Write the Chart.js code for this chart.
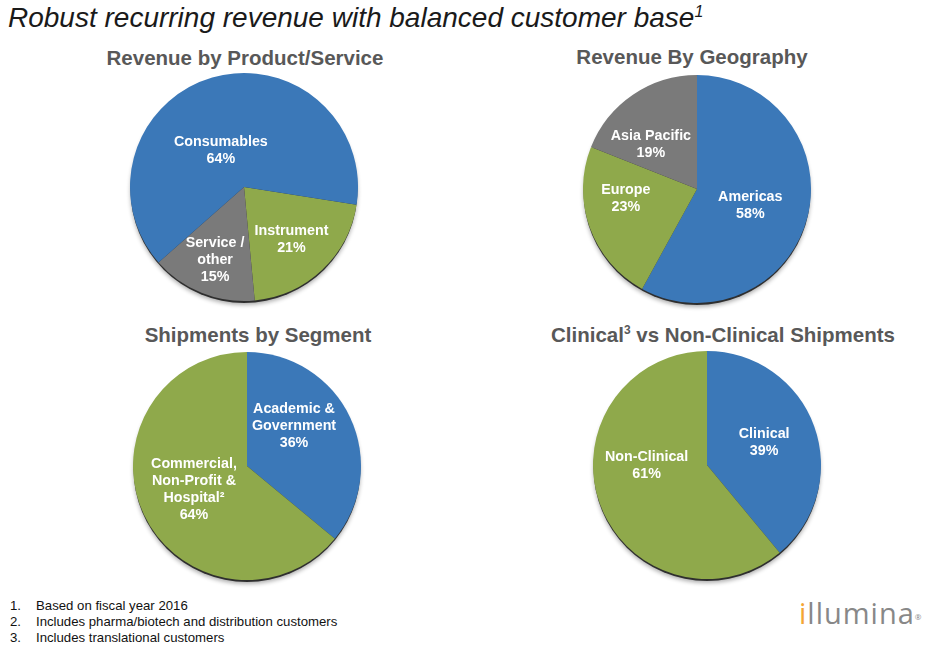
<!DOCTYPE html>
<html><head><meta charset="utf-8">
<script src="https://cdn.jsdelivr.net/npm/chart.js@4"></script>
<style>
html,body{margin:0;padding:0;background:#fff;width:930px;height:648px;overflow:hidden;font-family:"Liberation Sans",Arial,sans-serif;}
.abs{position:absolute;}
.ttl{position:absolute;font-weight:bold;font-size:20.5px;color:#585858;white-space:nowrap;transform:translate(-50%,-50%);}
.box{position:absolute;width:248px;height:248px;}
.fn{position:absolute;font-size:13.2px;color:#111;white-space:nowrap;}
</style></head><body>
<div class="abs" style="left:8px;top:2px;font-size:28px;font-style:italic;color:#1a1a1a;white-space:nowrap;">Robust recurring revenue with balanced customer base<sup style="font-size:16px;">1</sup></div>
<div class="ttl" style="left:245px;top:58px;">Revenue by Product/Service</div>
<div class="ttl" style="left:692px;top:57px;">Revenue By Geography</div>
<div class="ttl" style="left:258px;top:335px;">Shipments by Segment</div>
<div class="ttl" style="left:723px;top:335px;">Clinical<sup style="font-size:12px;">3</sup> vs Non-Clinical Shipments</div>
<div class="box" style="left:120px;top:63px;"><canvas id="c1"></canvas></div>
<div class="box" style="left:573px;top:65px;"><canvas id="c2"></canvas></div>
<div class="box" style="left:123px;top:342px;"><canvas id="c3"></canvas></div>
<div class="box" style="left:583px;top:341px;"><canvas id="c4"></canvas></div>
<div class="fn" style="left:10px;top:598px;">1.</div><div class="fn" style="left:36px;top:598px;">Based on fiscal year 2016</div>
<div class="fn" style="left:10px;top:614px;">2.</div><div class="fn" style="left:36px;top:614px;">Includes pharma/biotech and distribution customers</div>
<div class="fn" style="left:10px;top:630px;">3.</div><div class="fn" style="left:36px;top:630px;">Includes translational customers</div>
<div class="abs" style="left:799px;top:595px;font-family:'Open Sans',Lato,sans-serif;font-weight:400;font-size:29px;line-height:36px;color:#888888;white-space:nowrap;letter-spacing:1px;"><span style="color:#f4a533;">i</span>llumina<span style="font-size:8px;letter-spacing:0;vertical-align:top;position:relative;top:4px;">®</span></div>
<script>
// ---- data ----
const productLabels = ['Instrument', 'Service / other', 'Consumables'];
const productValues = [21, 15, 64];
const productLines = [['Instrument', '21%'], ['Service /', 'other', '15%'], ['Consumables', '64%']];

const geoLabels = ['Americas', 'Europe', 'Asia Pacific'];
const geoValues = [58, 23, 19];
const geoLines = [['Americas', '58%'], ['Europe', '23%'], ['Asia Pacific', '19%']];

const segmentLabels = ['Academic & Government', 'Commercial, Non-Profit & Hospital'];
const segmentValues = [36, 64];
const segmentLines = [['Academic &', 'Government', '36%'], ['Commercial,', 'Non-Profit &', 'Hospital²', '64%']];

const clinicalLabels = ['Clinical', 'Non-Clinical'];
const clinicalValues = [39, 61];
const clinicalLines = [['Clinical', '39%'], ['Non-Clinical', '61%']];

const BLUE = '#3b78b8', GREEN = '#8fa94b', GRAY = '#7a7a7a';

const piePlugin = {
  id: 'pieDeco',
  beforeDatasetsDraw(chart) {
    const arc = chart.getDatasetMeta(0).data[0];
    if (!arc) return;
    const ctx = chart.ctx;
    ctx.save();
    ctx.shadowColor = 'rgba(0,0,0,0.35)';
    ctx.shadowBlur = 4;
    ctx.shadowOffsetY = 2;
    ctx.fillStyle = 'rgba(35,35,35,0.92)';
    ctx.beginPath();
    ctx.arc(arc.x, arc.y + 2.5, arc.outerRadius - 0.5, 0, Math.PI * 2);
    ctx.fill();
    ctx.restore();
  },
  afterDatasetsDraw(chart, args, opts) {
    const ctx = chart.ctx;
    const meta = chart.getDatasetMeta(0);
    ctx.save();
    ctx.fillStyle = '#ffffff';
    ctx.font = 'bold 14.3px "Liberation Sans", Arial, sans-serif';
    ctx.textAlign = 'center';
    ctx.textBaseline = 'middle';
    meta.data.forEach((a, i) => {
      const pl = opts.place[i];
      const mid = (a.startAngle + a.endAngle) / 2 + pl[0] * Math.PI / 180;
      const r = a.outerRadius * pl[1];
      const x = a.x + Math.cos(mid) * r;
      const y = a.y + Math.sin(mid) * r;
      const lines = opts.lines[i];
      const lh = 17;
      lines.forEach((t, k) => {
        ctx.fillText(t, x, y + (k - (lines.length - 1) / 2) * lh);
      });
    });
    ctx.restore();
  }
};

function makePie(id, labels, values, colors, rotation, lines, place) {
  new Chart(document.getElementById(id), {
    type: 'pie',
    data: { labels: labels, datasets: [{ data: values, backgroundColor: colors, borderWidth: 0, hoverOffset: 0 }] },
    options: {
      responsive: true, maintainAspectRatio: false, animation: false,
      rotation: rotation,
      layout: { padding: 10 },
      events: [],
      plugins: { legend: { display: false }, tooltip: { enabled: false }, pieDeco: { lines: lines, place: place } }
    },
    plugins: [piePlugin]
  });
}

makePie('c1', productLabels, productValues, [GREEN, GRAY, BLUE], 99, productLines, [[1, 0.62], [0, 0.69], [-16, 0.38]]);
makePie('c2', geoLabels, geoValues, [BLUE, GREEN, GRAY], 0, geoLines, [[3, 0.49], [12, 0.63], [-12, 0.56]]);
makePie('c3', segmentLabels, segmentValues, [BLUE, GREEN], 0, segmentLines, [[-15, 0.54], [1, 0.51]]);
makePie('c4', clinicalLabels, clinicalValues, [BLUE, GREEN], 0, clinicalLines, [[-2, 0.54], [19, 0.53]]);
</script>
</body></html>
